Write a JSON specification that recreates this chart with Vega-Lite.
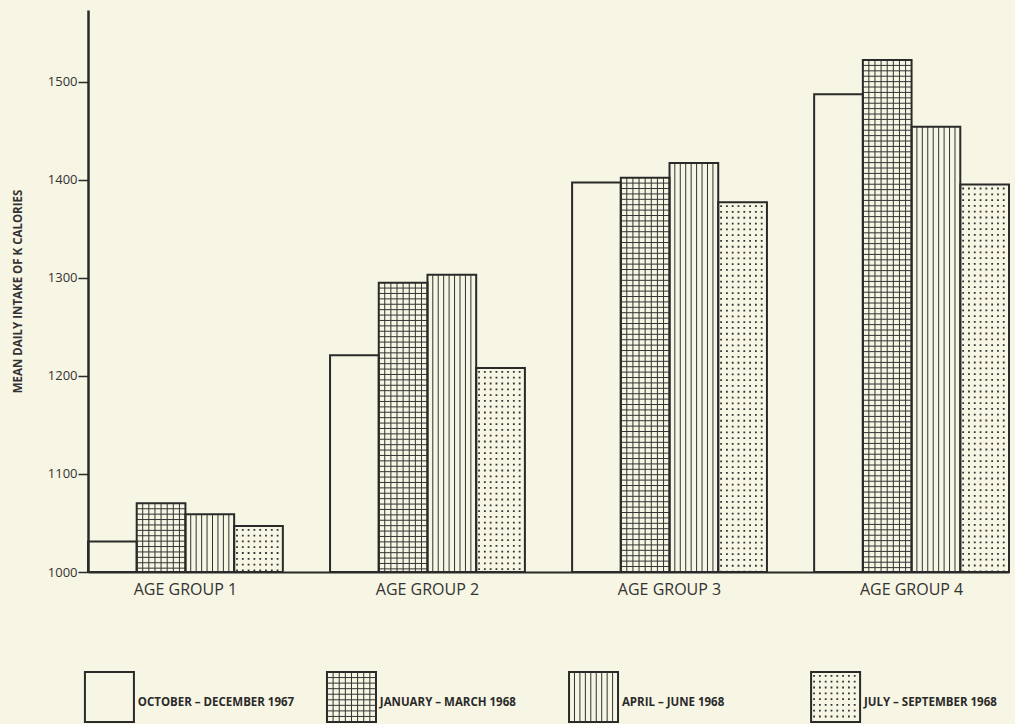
{
  "$schema": "https://vega.github.io/schema/vega-lite/v6.json",
  "background": "#f7f5e3",
  "padding": {"left": 12, "top": 10, "right": 5, "bottom": 0},
  "config": {"view": {"stroke": null}, "font": "Open Sans"},
  "datasets": {
    "intake": [
      {"group": "AGE GROUP 1", "period": "OCTOBER – DECEMBER 1967", "kcal": 1031},
      {"group": "AGE GROUP 1", "period": "JANUARY – MARCH 1968", "kcal": 1070},
      {"group": "AGE GROUP 1", "period": "APRIL – JUNE 1968", "kcal": 1059},
      {"group": "AGE GROUP 1", "period": "JULY – SEPTEMBER 1968", "kcal": 1047},
      {"group": "AGE GROUP 2", "period": "OCTOBER – DECEMBER 1967", "kcal": 1221},
      {"group": "AGE GROUP 2", "period": "JANUARY – MARCH 1968", "kcal": 1295},
      {"group": "AGE GROUP 2", "period": "APRIL – JUNE 1968", "kcal": 1303},
      {"group": "AGE GROUP 2", "period": "JULY – SEPTEMBER 1968", "kcal": 1208},
      {"group": "AGE GROUP 3", "period": "OCTOBER – DECEMBER 1967", "kcal": 1397},
      {"group": "AGE GROUP 3", "period": "JANUARY – MARCH 1968", "kcal": 1402},
      {"group": "AGE GROUP 3", "period": "APRIL – JUNE 1968", "kcal": 1417},
      {"group": "AGE GROUP 3", "period": "JULY – SEPTEMBER 1968", "kcal": 1377},
      {"group": "AGE GROUP 4", "period": "OCTOBER – DECEMBER 1967", "kcal": 1487},
      {"group": "AGE GROUP 4", "period": "JANUARY – MARCH 1968", "kcal": 1522},
      {"group": "AGE GROUP 4", "period": "APRIL – JUNE 1968", "kcal": 1454},
      {"group": "AGE GROUP 4", "period": "JULY – SEPTEMBER 1968", "kcal": 1395}
    ],
    "periods": [
      {"period": "OCTOBER – DECEMBER 1967"},
      {"period": "JANUARY – MARCH 1968"},
      {"period": "APRIL – JUNE 1968"},
      {"period": "JULY – SEPTEMBER 1968"}
    ]
  },
  "spacing": 71,
  "vconcat": [
    {
      "width": 921,
      "height": 562,
      "data": {"name": "intake"},
      "encoding": {
        "x": {
          "field": "group", "type": "nominal", "sort": null,
          "scale": {"paddingInner": 0.195, "paddingOuter": 0},
          "axis": {"title": null, "labelAngle": 0, "ticks": false, "domainWidth": 2, "domainColor": "#2a2a2a", "labelFontSize": 16, "labelColor": "#333333", "labelPadding": 9}
        },
        "xOffset": {
          "field": "period", "type": "nominal", "sort": null,
          "scale": {"domain": ["OCTOBER – DECEMBER 1967", "JANUARY – MARCH 1968", "APRIL – JUNE 1968", "JULY – SEPTEMBER 1968"], "paddingInner": 0, "paddingOuter": 0}
        },
        "y": {
          "field": "kcal", "type": "quantitative",
          "scale": {"domain": [1000, 1573], "nice": false, "zero": false},
          "axis": {"title": "MEAN DAILY INTAKE OF K CALORIES", "values": [1000, 1100, 1200, 1300, 1400, 1500], "format": "d", "grid": false, "tickSize": 10, "tickWidth": 1.5, "tickColor": "#2a2a2a", "domainWidth": 2.5, "domainColor": "#2a2a2a", "labelFontSize": 13, "labelColor": "#333333", "labelPadding": 1, "titleFontSize": 11.5, "titleFontWeight": "bold", "titleColor": "#333333", "titlePadding": 24}
        }
      },
      "layer": [
        {
          "transform": [{"filter": "datum.period === 'JANUARY – MARCH 1968'"}],
          "mark": {"type": "point", "clip": true, "size": 4, "filled": false, "opacity": 1, "stroke": "#333333", "strokeWidth": 1,
            "shape": "M-18.375,0v570m6.125,-570v570m6.125,-570v570m6.125,-570v570m6.125,-570v570m6.125,-570v570m6.125,-570v570M-24.5,5.4h49m-49,5.4h49m-49,5.4h49m-49,5.4h49m-49,5.4h49m-49,5.4h49m-49,5.4h49m-49,5.4h49m-49,5.4h49m-49,5.4h49m-49,5.4h49m-49,5.4h49m-49,5.4h49m-49,5.4h49m-49,5.4h49m-49,5.4h49m-49,5.4h49m-49,5.4h49m-49,5.4h49m-49,5.4h49m-49,5.4h49m-49,5.4h49m-49,5.4h49m-49,5.4h49m-49,5.4h49m-49,5.4h49m-49,5.4h49m-49,5.4h49m-49,5.4h49m-49,5.4h49m-49,5.4h49m-49,5.4h49m-49,5.4h49m-49,5.4h49m-49,5.4h49m-49,5.4h49m-49,5.4h49m-49,5.4h49m-49,5.4h49m-49,5.4h49m-49,5.4h49m-49,5.4h49m-49,5.4h49m-49,5.4h49m-49,5.4h49m-49,5.4h49m-49,5.4h49m-49,5.4h49m-49,5.4h49m-49,5.4h49m-49,5.4h49m-49,5.4h49m-49,5.4h49m-49,5.4h49m-49,5.4h49m-49,5.4h49m-49,5.4h49m-49,5.4h49m-49,5.4h49m-49,5.4h49m-49,5.4h49m-49,5.4h49m-49,5.4h49m-49,5.4h49m-49,5.4h49m-49,5.4h49m-49,5.4h49m-49,5.4h49m-49,5.4h49m-49,5.4h49m-49,5.4h49m-49,5.4h49m-49,5.4h49m-49,5.4h49m-49,5.4h49m-49,5.4h49m-49,5.4h49m-49,5.4h49m-49,5.4h49m-49,5.4h49m-49,5.4h49m-49,5.4h49m-49,5.4h49m-49,5.4h49m-49,5.4h49m-49,5.4h49m-49,5.4h49m-49,5.4h49m-49,5.4h49m-49,5.4h49m-49,5.4h49m-49,5.4h49m-49,5.4h49m-49,5.4h49m-49,5.4h49m-49,5.4h49m-49,5.4h49m-49,5.4h49m-49,5.4h49m-49,5.4h49m-49,5.4h49m-49,5.4h49"}
        },
        {
          "transform": [{"filter": "datum.period === 'APRIL – JUNE 1968'"}],
          "mark": {"type": "point", "clip": true, "size": 4, "filled": false, "opacity": 1, "stroke": "#333333", "strokeWidth": 1,
            "shape": "M-19.056,0v570m5.444,-570v570m5.444,-570v570m5.444,-570v570m5.444,-570v570m5.444,-570v570m5.444,-570v570m5.444,-570v570"}
        },
        {
          "transform": [{"filter": "datum.period === 'JULY – SEPTEMBER 1968'"}],
          "mark": {"type": "point", "clip": true, "size": 4, "filled": false, "opacity": 1, "stroke": "#333333", "strokeWidth": 1.8, "strokeDash": [1.8, 4], "strokeCap": "butt",
            "shape": "M-21.5,3v568.4m5.8,-568.4v568.4m5.8,-568.4v568.4m5.8,-568.4v568.4m5.8,-568.4v568.4m5.8,-568.4v568.4m5.8,-568.4v568.4m5.8,-568.4v568.4"}
        },
        {
          "mark": {"type": "bar", "fillOpacity": 0, "stroke": "#2a2a2a", "strokeWidth": 2},
          "encoding": {"y2": {"datum": 1000}}
        }
      ]
    },
    {
      "width": 921,
      "height": 50,
      "data": {"name": "periods"},
      "encoding": {
        "x": {"field": "period", "type": "nominal", "sort": null, "bandPosition": 0.11, "scale": {"type": "band", "paddingInner": 0.195, "paddingOuter": 0}, "axis": null}
      },
      "layer": [
        {
          "mark": {"type": "point", "size": 4, "filled": false, "opacity": 1, "stroke": "#2a2a2a", "strokeWidth": 2, "shape": "M-24.5,-25h49v50h-49z"}
        },
        {
          "transform": [{"filter": "datum.period === 'JANUARY – MARCH 1968'"}],
          "mark": {"type": "point", "size": 4, "filled": false, "opacity": 1, "stroke": "#333333", "strokeWidth": 1,
            "shape": "M-18.375,-25v50m6.125,-50v50m6.125,-50v50m6.125,-50v50m6.125,-50v50m6.125,-50v50m6.125,-50v50M-24.5,-19.44h49m-49,5.556h49m-49,5.556h49m-49,5.556h49m-49,5.556h49m-49,5.556h49m-49,5.556h49m-49,5.556h49"}
        },
        {
          "transform": [{"filter": "datum.period === 'APRIL – JUNE 1968'"}],
          "mark": {"type": "point", "size": 4, "filled": false, "opacity": 1, "stroke": "#333333", "strokeWidth": 1,
            "shape": "M-19.056,-25v50m5.444,-50v50m5.444,-50v50m5.444,-50v50m5.444,-50v50m5.444,-50v50m5.444,-50v50m5.444,-50v50"}
        },
        {
          "transform": [{"filter": "datum.period === 'JULY – SEPTEMBER 1968'"}],
          "mark": {"type": "point", "size": 4, "filled": false, "opacity": 1, "stroke": "#333333", "strokeWidth": 1.8, "strokeDash": [1.8, 4], "strokeCap": "butt",
            "shape": "M-21.5,-22v46.4m5.8,-46.4v46.4m5.8,-46.4v46.4m5.8,-46.4v46.4m5.8,-46.4v46.4m5.8,-46.4v46.4m5.8,-46.4v46.4m5.8,-46.4v46.4"}
        },
        {
          "mark": {"type": "text", "align": "left", "baseline": "middle", "dy": 6, "fontSize": 11.5, "fontWeight": "bold", "fill": "#2a2a2a"},
          "encoding": {
            "x": {"field": "period", "type": "nominal", "sort": null, "bandPosition": 0.2555},
            "text": {"field": "period"}
          }
        }
      ]
    }
  ]
}
